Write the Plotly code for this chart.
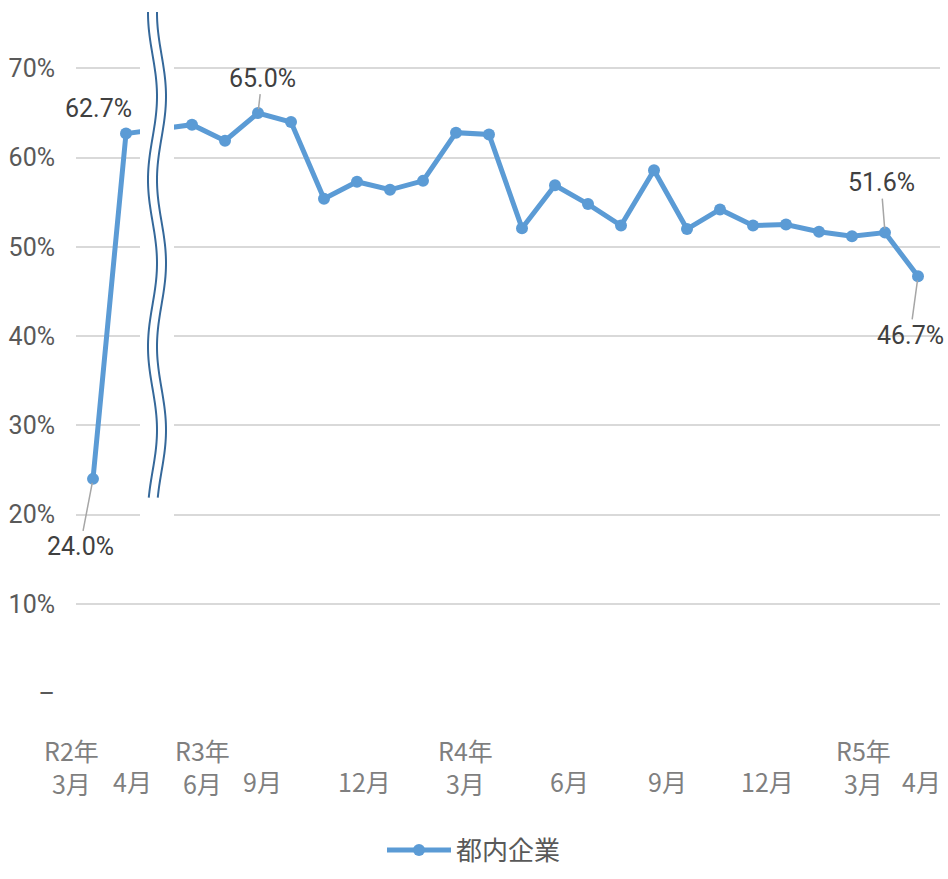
import math
import plotly.graph_objects as go

# ---------------- data ----------------
months = [
    "R2年3月", "R2年4月", "(中断)",
    "R3年6月", "R3年7月", "R3年8月", "R3年9月", "R3年10月", "R3年11月", "R3年12月",
    "R4年1月", "R4年2月", "R4年3月", "R4年4月", "R4年5月", "R4年6月", "R4年7月",
    "R4年8月", "R4年9月", "R4年10月", "R4年11月", "R4年12月",
    "R5年1月", "R5年2月", "R5年3月", "R5年4月",
]
values = [
    24.0, 62.7, None,
    63.7, 61.9, 65.0, 64.0, 55.4, 57.3, 56.4,
    57.4, 62.8, 62.6, 52.1, 56.9, 54.8, 52.4,
    58.6, 52.0, 54.2, 52.4, 52.5,
    51.7, 51.2, 51.6, 46.7,
]
series_name = "都内企業"

tick_months = ["R2年3月", "R2年4月", "R3年6月", "R3年9月", "R3年12月", "R4年3月",
               "R4年6月", "R4年9月", "R4年12月", "R5年3月", "R5年4月"]
tick_year = ["R2年", "", "R3年", "", "", "R4年", "", "", "", "R5年", ""]
tick_month = ["3月", "4月", "6月", "9月", "12月", "3月", "6月", "9月", "12月", "3月", "4月"]

y_ticks = [0, 10, 20, 30, 40, 50, 60, 70]
y_tick_text = ["–", "10%", "20%", "30%", "40%", "50%", "60%", "70%"]

labeled_months = ["R2年3月", "R2年4月", "R3年8月", "R5年3月", "R5年4月"]

# ---------------- layout constants ----------------
W, H = 948, 879
ML, MR, MT, MB = 76, 8, 6, 173
X0_PX, DX_PX = 93, 33          # pixel of first category, spacing
Y_MAX = 77
plot_h = H - MT - MB
px_per_unit = plot_h / Y_MAX

x_idx = list(range(len(months)))
x_range = [-(X0_PX - ML) / DX_PX, (W - MR - X0_PX) / DX_PX]


def px2x(px):
    return (px - X0_PX) / DX_PX


def py2y(py):
    return (H - MB - py) / px_per_unit


pct_font = "Roboto, Liberation Sans, sans-serif"
jp_font = "Noto Sans CJK JP, Noto Sans, sans-serif"
LINE_COLOR = "#5B9BD5"

fig = go.Figure()
fig.add_trace(go.Scatter(
    x=x_idx, y=values, name=series_name, mode="lines+markers",
    connectgaps=True,
    line=dict(color=LINE_COLOR, width=5),
    marker=dict(color=LINE_COLOR, size=12),
    text=months, hovertemplate="%{text}: %{y:.1f}%<extra></extra>",
))

annotations = []

# data labels (offsets in px: ax, ay), showarrow
label_style = {
    "R2年3月": (-13, 68, True),
    "R2年4月": (-28, -25, False),
    "R3年8月": (4, -35, True),
    "R5年3月": (-4, -50, True),
    "R5年4月": (-8, 59, True),
}
for m in labeled_months:
    i = months.index(m)
    ax, ay, arrow = label_style[m]
    v = values[i]
    common = dict(x=i, y=v, xref="x", yref="y", text=f"{v:.1f}%",
                  font=dict(family=pct_font, size=25, color="#404040"))
    if arrow:
        annotations.append(dict(
            showarrow=True, arrowhead=0, arrowwidth=1.5, arrowcolor="#A6A6A6",
            ax=ax, ay=ay, standoff=4, **common))
    else:
        annotations.append(dict(showarrow=False, xshift=ax, yshift=-ay, **common))

# category labels (placed like the original text boxes)
label_shift = [-22, 6, 10, -29, -26, -24, -19, -20, -19, -22, 3]
two_row_y = (H - MB - 781) / plot_h
one_row_y = (H - MB - 796) / plot_h
for m, yr, mo, sh in zip(tick_months, tick_year, tick_month, label_shift):
    i = months.index(m)
    if yr:
        annotations.append(dict(x=i, y=two_row_y, xref="x", yref="paper",
                                text=f"{yr}<br>{mo}", align="center",
                                showarrow=False, xshift=sh, yanchor="middle",
                                font=dict(family=jp_font, size=25, color="#7F7F7F")))
    else:
        annotations.append(dict(x=i, y=one_row_y, xref="x", yref="paper", text=mo,
                                showarrow=False, xshift=sh, yanchor="middle",
                                font=dict(family=jp_font, size=25, color="#7F7F7F")))

# axis break decoration between R2年4月 and R3年6月
shapes = [dict(type="rect", xref="x", yref="y",
               x0=px2x(140), x1=px2x(174), y0=py2y(528), y1=Y_MAX,
               fillcolor="white", line=dict(width=0), layer="above")]
for off in (0, 9):
    pts = []
    py = 12
    while py <= 507:
        px = 152.5 + off - 4.5 * math.cos(2 * math.pi * (py - 13) / 170)
        pts.append(f"{px2x(px):.4f},{py2y(py):.4f}")
        py += 3
    shapes.append(dict(type="path", xref="x", yref="y",
                       path="M " + " L ".join(pts),
                       line=dict(color="#35689A", width=2), layer="above"))

fig.update_layout(
    width=W, height=H,
    margin=dict(l=ML, r=MR, t=MT, b=MB),
    paper_bgcolor="white", plot_bgcolor="white",
    xaxis=dict(range=x_range, showgrid=False, zeroline=False, showticklabels=False,
               showline=False, ticks=""),
    yaxis=dict(range=[0, Y_MAX], tickvals=y_ticks, ticktext=y_tick_text,
               showgrid=True, gridcolor="#D9D9D9", gridwidth=2,
               zeroline=False, showline=False, ticks="",
               ticklabelstandoff=20,
               tickfont=dict(family=pct_font, size=25, color="#595959")),
    showlegend=True,
    legend=dict(orientation="h", x=(474 - ML) / (W - ML - MR), xanchor="center",
                y=(H - MB - 866) / plot_h, yanchor="middle", itemwidth=64,
                font=dict(family=jp_font, size=26, color="#595959")),
    annotations=annotations,
    shapes=shapes,
)

fig.write_html("out.html")
